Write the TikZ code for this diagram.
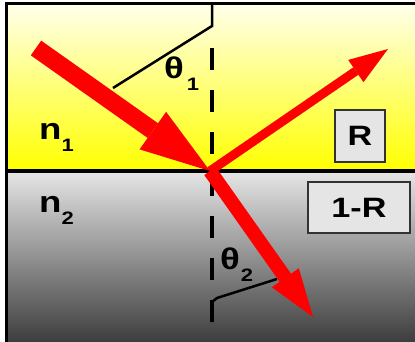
\documentclass[tikz,border=0pt]{standalone}
\usepackage{fontspec}
\setmainfont{Liberation Sans}[FakeStretch=1.22]
\usetikzlibrary{arrows.meta}
\tikzset{
  beam/.style      = {draw=red, line cap=butt},
  medlabel/.style  = {font=\fontsize{30}{30}\selectfont\bfseries, inner sep=0pt, anchor=base west},
  fracbox/.style   = {rectangle, draw=black!80, line width=1.5pt, fill=black!10,
                      inner sep=0pt, font=\bfseries},
  normalline/.style = {line width=4.5pt, dash pattern=on 22pt off 20pt},
  anglemark/.style = {line width=2.5pt, line join=miter},
}
\newcommand{\lowidx}[1]{\raisebox{-12pt}{\fontsize{18}{18}\selectfont #1}}

\begin{document}
\begin{tikzpicture}[x=1pt, y=-1pt]
\useasboundingbox (0,0) rectangle (415,342);

% =============== MEDIA ===============
\shade[top color=yellow!8, bottom color=yellow] (6,4) rectangle (415,171);
\shade[top color=black!10, bottom color=black!76] (6,171) rectangle (415,342);
\draw[line width=4pt] (6,171) -- (415,171);

% =============== NORMAL AND ANGLES ===============
\draw[normalline] (212,48) -- (212,322);
\draw[anglemark] (212,4) -- (212,26) -- (113,88);
\draw[anglemark] (212,322) -- (212,302) -- (217,298) -- (277,279);

% =============== BEAMS ===============
\coordinate (hit)   at (210,171);
\coordinate (src)   at (36,48);
\coordinate (refl)  at (388,49);
\coordinate (trans) at (313,317);

\draw[beam, line width=18pt, -{Triangle[length=70pt, width=46pt, line width=0pt]}] (src) -- (hit);
\draw[beam, line width=9pt, -{Triangle[length=39pt, width=27pt, line width=0pt]}] (hit) -- (refl);
\draw[beam, line width=14pt, -{Triangle[length=48pt, width=33pt, line width=0pt]}] (hit) -- (trans);

% =============== LABELS ===============
\node (n1)  [medlabel] at (39,140)  {n\lowidx{1}};
\node (n2)  [medlabel] at (39,212)  {n\lowidx{2}};
\node (th1) [medlabel] at (164,79)  {θ\kern3pt\lowidx{1}};
\node (th2) [medlabel] at (220,269) {θ\kern1pt\lowidx{2}};

\node (rbox) [fracbox, minimum width=50pt, minimum height=52pt,
              font=\fontsize{28}{28}\selectfont\bfseries] at (360,136) {R};
\node (tbox) [fracbox, minimum width=102pt, minimum height=51pt,
              font=\fontsize{28}{28}\selectfont\bfseries] at (359,207.5) {1-R};

% frame
\draw[line width=3pt] (6,342) -- (6,4) -- (415,4);

\end{tikzpicture}
\end{document}
